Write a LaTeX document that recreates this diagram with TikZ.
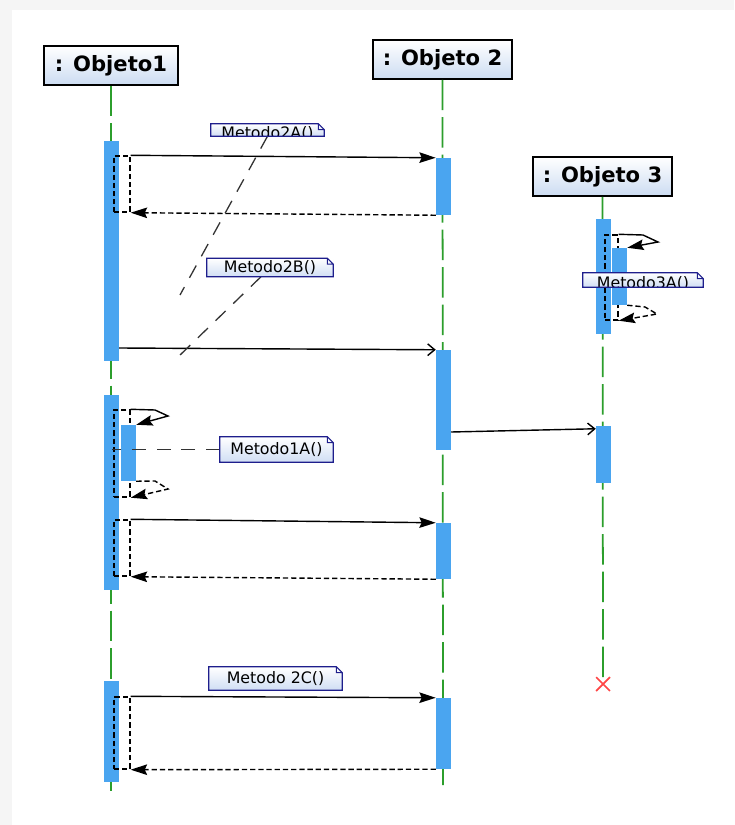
\documentclass[tikz,border=0pt]{standalone}
\usepackage{fontspec}
\setmainfont{DejaVu Sans}
\usetikzlibrary{arrows.meta,fit,shapes.misc}

\definecolor{barblue}{RGB}{74,165,240}
\definecolor{lifegreen}{RGB}{44,158,44}
\definecolor{headblue}{RGB}{204,220,242}
\definecolor{noteblue}{RGB}{208,222,244}
\definecolor{notenavy}{RGB}{30,30,140}
\definecolor{crossred}{RGB}{255,70,70}

% one unit of the picture
\newcommand\pxu{0.03cm}

% note border with the folded corner
\newcommand\notefold[1]{%
  \fill[white] ([xshift=-5pt]#1.north east) -- (#1.north east) -- ([yshift=-5pt]#1.north east) -- cycle;
  \draw[notenavy, line width=1pt, line join=miter]
    (#1.north west) -- ([xshift=-5pt]#1.north east) -- ([yshift=-5pt]#1.north east)
    -- (#1.south east) -- (#1.south west) -- cycle
    ([xshift=-5pt]#1.north east) -- ([xshift=-5pt,yshift=-5pt]#1.north east) -- ([yshift=-5pt]#1.north east);}

\tikzset{
  head/.style={draw=black, line width=1.3pt, top color=white, bottom color=headblue,
    minimum height=39*\pxu, inner sep=0pt, font=\fontsize{18}{21}\selectfont\bfseries},
  lifeline/.style={lifegreen, line width=1.5pt, dash pattern=on 26pt off 6pt},
  bar/.style={fill=barblue, inner sep=0pt},
  syncbox/.style={draw=black, line width=1.2pt, dash pattern=on 4.5pt off 2.5pt, inner sep=0pt},
  call/.style={black, line width=1.2pt, -{Stealth[length=14pt,width=9pt,inset=2pt]}},
  ret/.style={black, line width=1.2pt, dash pattern=on 4.5pt off 2.5pt, -{Stealth[length=14pt,width=9pt,inset=2pt]}},
  async/.style={black, line width=1.2pt, -{Straight Barb[length=6pt,width=10pt]}},
  notebox/.style={rectangle, top color=white, bottom color=noteblue, inner sep=0pt,
    font=\fontsize{13.5}{16}\selectfont},
  notetext/.style={inner sep=0pt, font=\fontsize{13.5}{16}\selectfont},
  noteline/.style={black!80, line width=1.1pt, dash pattern=on 12pt off 9pt},
}

\begin{document}
\begin{tikzpicture}[x=\pxu, y=-\pxu]
  \useasboundingbox (0,0) rectangle (734,825);
  \fill[black!4] (0,0) rectangle (734,825);
  \fill[white] (12,10) rectangle (734,825);

  % objects
  \node[head, minimum width=134*\pxu] (o1) at (111,65.5) {: Objeto1};
  \node[head, minimum width=139*\pxu] (o2) at (442.5,59.5) {: Objeto 2};
  \node[head, minimum width=139*\pxu] (o3) at (602.5,176.5) {: Objeto 3};

  \coordinate (o1end) at (111,798);
  \coordinate (o2end) at (443,786);
  \node[cross out, draw=crossred, line width=1.5pt, minimum size=12*\pxu, inner sep=0pt] (o3x) at (603,684) {};

  \draw[lifeline] (o1.south) -- (o1end);
  \draw[lifeline] (o2.south) -- (o2end);
  \draw[lifeline] (o3.south) -- (o3x.center);

  % activations
  \node[bar, fit={(104,141) (119,361)}] (a1) {};
  \node[bar, fit={(104,395) (119,590)}] (a2) {};
  \node[bar, fit={(104,681) (119,782)}] (a4) {};
  \node[bar, fit={(436,158) (451,215)}] (b1) {};
  \node[bar, fit={(436,350) (451,450)}] (b2) {};
  \node[bar, fit={(436,523) (451,579)}] (b3) {};
  \node[bar, fit={(436,698) (451,769)}] (b4) {};
  \node[bar, fit={(596,219) (611,334)}] (c1) {};
  \node[bar, fit={(596,426) (611,483)}] (c3) {};

  \node[syncbox, fit={(114,156) (130,212)}] (s1) {};
  \node[syncbox, fit={(114,520) (130,576)}] (s2) {};
  \node[syncbox, fit={(114,697) (130,769)}] (s3) {};
  \node[syncbox, fit={(114,410) (130,497)}] (s4) {};
  \node[syncbox, fit={(605,235) (618,320)}] (s5) {};

  \node[bar, fit={(121,425) (136,481)}] (a3) {};
  \node[bar, fit={(612,248) (627,305)}] (c2) {};

  % messages
  \draw[call] (s1.north east) -- (b1.north west);
  \draw[ret] (b1.south west) -- (s1.south east);
  \draw[async] ([yshift=-97*\pxu]a1.east) -- (b2.north west);
  \draw[async] ([yshift=-32*\pxu]b2.east) -- ([yshift=-3*\pxu]c3.north west);
  \draw[call] (s2.north east) -- (b3.north west);
  \draw[ret] (b3.south west) -- (s2.south east);
  \draw[call] (s3.north east) -- (b4.north west);
  \draw[ret] (b4.south west) -- (s3.south east);

  \draw[call] (s4.north east) -- (155,410) -- (168,416) -- (a3.north east);
  \draw[ret] (a3.south east) -- (155,481) -- (168,489) -- (s4.south east);
  \draw[call] (s5.north east) -- (643,235) -- (658,242) -- (c2.north east);
  \draw[ret] (c2.south east) -- (645,307) -- (657,314) -- (s5.south east);

  % notes
  \coordinate (n2afoot) at (180,295);
  \coordinate (n2bfoot) at (178,357);
  \node[notebox, minimum width=113*\pxu, minimum height=12*\pxu] (n2a) at (267.5,130) {};
  \node[notebox, minimum width=126*\pxu, minimum height=18*\pxu] (n2b) at (270,267.5) {Metodo2B()};
  \node[notebox, minimum width=113*\pxu, minimum height=25*\pxu] (n1a) at (276.5,449.5) {Metodo1A()};
  \node[notebox, minimum width=133*\pxu, minimum height=23*\pxu] (n2c) at (275.5,678.5) {Metodo 2C()};
  \node[notebox, minimum width=120*\pxu, minimum height=14*\pxu] (n3a) at (643,280) {};

  \draw[noteline] (n2a.south) -- (n2afoot);
  \draw[noteline] ([xshift=-9*\pxu]n2b.south) -- (n2bfoot);
  \draw[noteline] (n1a.west) -- (a2 |- n1a.west);

  \begin{scope}
    \clip (n2a.south west) rectangle (n2a.north east);
    \node[notetext] (n2atext) at (267.5,134) {Metodo2A()};
  \end{scope}
  \begin{scope}
    \clip (n3a.south west) rectangle (n3a.north east);
    \node[notetext] (n3atext) at (643,283.5) {Metodo3A()};
  \end{scope}

  \notefold{n2a}
  \notefold{n2b}
  \notefold{n1a}
  \notefold{n2c}
  \notefold{n3a}
\end{tikzpicture}
\end{document}
